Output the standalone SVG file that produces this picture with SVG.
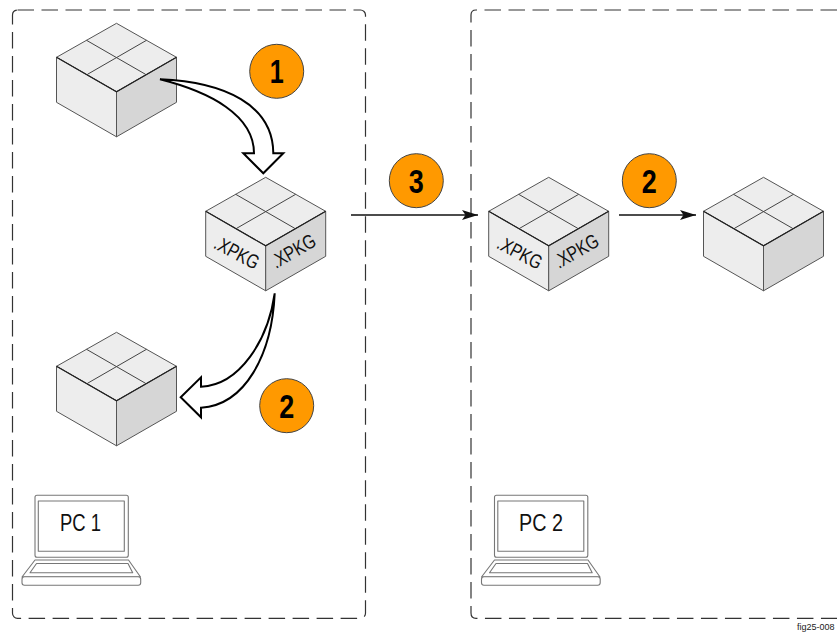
<svg xmlns="http://www.w3.org/2000/svg" width="837" height="634" viewBox="0 0 837 634">
<style>
.frame{fill:none;stroke:#333;stroke-width:1.2;stroke-dasharray:16.5 7.5}
.l{fill:#ededed;stroke:#555;stroke-width:1;stroke-linejoin:round}
.r{fill:#d6d6d6;stroke:#555;stroke-width:1;stroke-linejoin:round}
.g{fill:none;stroke:#444;stroke-width:1}
.d{fill:none;stroke:#222;stroke-width:1.2}
.c{fill:#ff9900;stroke:#444;stroke-width:1}
.n{font-family:"Liberation Sans",Arial,sans-serif;font-weight:bold;font-size:33px;text-anchor:middle;fill:#000}
.x{font-family:"Liberation Sans",Arial,sans-serif;font-size:20px;fill:#111}
.pc{font-family:"Liberation Sans",Arial,sans-serif;font-size:24px;fill:#111}
.hollow{fill:#fff;stroke:#000;stroke-width:2;stroke-linejoin:miter}
.line{fill:none;stroke:#111;stroke-width:1.4}
.lap{fill:#fff;stroke:#777;stroke-width:1.1;stroke-linejoin:round}
</style>
<defs>
<g id="box">
<path class="l" d="M0 0L60 34L0 68.5L-60 34Z"/>
<path class="l" d="M-60 34L0 68.5V113.5L-60 79Z"/>
<path class="r" d="M60 34L0 68.5V113.5L60 79Z"/>
<path class="g" d="M-30 17L29 51M30 17L-29 51"/>
<path class="d" d="M-60 34L0 68.5L60 34"/>
</g>
<g id="laptop">
<rect class="lap" x="35" y="495.3" width="93.3" height="62" rx="2"/>
<rect class="lap" x="38.3" y="501" width="86" height="50.3"/>
<path class="lap" d="M35 560H128.5L140.5 577H22Z"/>
<path class="lap" d="M36.500 563.500H128L132.700 572.700H30Z"/>
<rect class="lap" x="22" y="576.700" width="118.700" height="8.600" rx="2.500"/>
</g>
<marker id="ah" markerUnits="userSpaceOnUse" markerWidth="17" markerHeight="11" refX="16" refY="5.5" orient="auto">
<path d="M0 0.500L16 5.500L0 10.500L3.500 5.500Z" fill="#111"/>
</marker>
</defs>
<g id="frame-pc1"><rect class="frame" x="12.500" y="10" width="353" height="608.300" rx="5"/></g>
<g id="frame-pc2"><path class="frame" d="M837 10H476Q471 10 471 15V613Q471 618.300 476 618.300H837"/></g>
<g id="box-source"><use href="#box" x="116.500" y="23.300"/></g>
<g id="package-pc1"><use href="#box" x="265.700" y="177.300"/>
<text class="x" transform="translate(212.500 247.500) rotate(28)" textLength="48" lengthAdjust="spacingAndGlyphs">.XPKG</text>
<text class="x" transform="translate(276 269) rotate(-30)" textLength="48" lengthAdjust="spacingAndGlyphs">.XPKG</text></g>
<g id="box-installed-pc1"><use href="#box" x="116.500" y="332.300"/></g>
<g id="package-pc2"><use href="#box" x="548.700" y="177.300"/>
<text class="x" transform="translate(495.500 247.500) rotate(28)" textLength="48" lengthAdjust="spacingAndGlyphs">.XPKG</text>
<text class="x" transform="translate(559 269) rotate(-30)" textLength="48" lengthAdjust="spacingAndGlyphs">.XPKG</text></g>
<g id="box-installed-pc2"><use href="#box" x="763.500" y="177.300"/></g>
<g id="connectors">
<path class="hollow" d="M160 79.300C225 82 273 105 273.300 153.300H283.300L263.300 173.300L243.300 153.300H254C254 115 210 92 160 79.300Z"/>
<path class="hollow" d="M274.700 293.300C272 355 245 405 201 407.700V417.300L180.700 397.300L201 377.300V386.700C240 385 268 340 274.700 293.300Z"/>
<path class="line" d="M351 215H478" marker-end="url(#ah)"/>
<path class="line" d="M619 215H696" marker-end="url(#ah)"/>
</g>
<g id="step-1"><circle class="c" cx="276.700" cy="71.300" r="27"/><text class="n" x="276.700" y="83" textLength="14" lengthAdjust="spacingAndGlyphs">1</text></g>
<g id="step-2a"><circle class="c" cx="286.700" cy="405.700" r="27"/><text class="n" x="286.700" y="417.500" textLength="15" lengthAdjust="spacingAndGlyphs">2</text></g>
<g id="step-3"><circle class="c" cx="416.300" cy="180.700" r="27"/><text class="n" x="416.300" y="192.500" textLength="15" lengthAdjust="spacingAndGlyphs">3</text></g>
<g id="step-2b"><circle class="c" cx="649.300" cy="180.700" r="27"/><text class="n" x="649.300" y="192.500" textLength="15" lengthAdjust="spacingAndGlyphs">2</text></g>
<g id="pc1"><use href="#laptop"/><text class="pc" x="60" y="531" textLength="41" lengthAdjust="spacingAndGlyphs">PC 1</text></g>
<g id="pc2"><use href="#laptop" x="459.500"/><text class="pc" x="519" y="531" textLength="44" lengthAdjust="spacingAndGlyphs">PC 2</text></g>
<text x="797" y="630" font-family="'Liberation Sans',Arial,sans-serif" font-size="9" fill="#222">fig25-008</text>
</svg>
